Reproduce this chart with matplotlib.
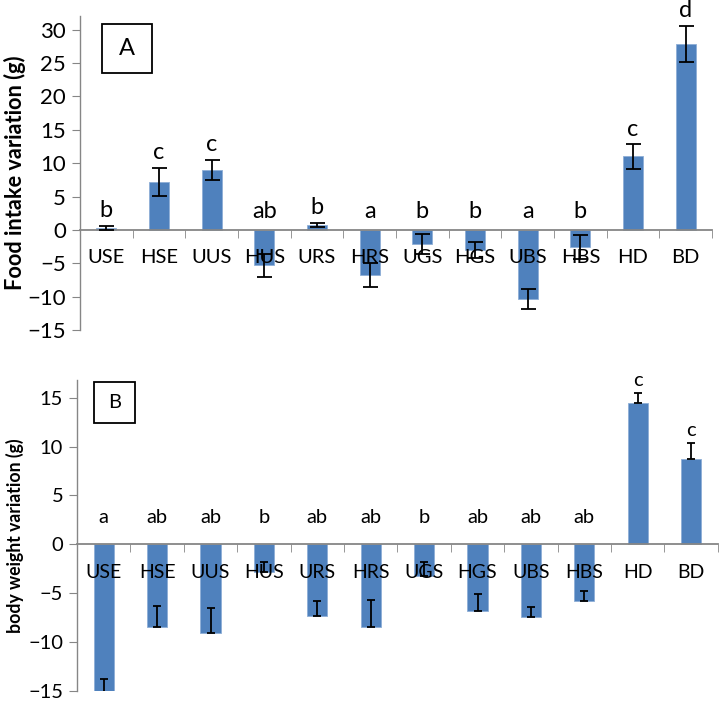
import numpy as np
import matplotlib.pyplot as plt
from matplotlib.patches import Rectangle

plt.rcParams['font.family'] = ['Lato', 'DejaVu Sans']

grupos = ['USE', 'HSE', 'UUS', 'HUS', 'URS', 'HRS', 'UGS', 'HGS', 'UBS', 'HBS', 'HD', 'BD']

# Panel A: variacion de ingesta (g)
ingesta = [0.3, 7.2, 9.0, -5.3, 0.75, -6.8, -2.1, -3.0, -10.4, -2.5, 11.0, 27.8]
ingesta_err = [0.3, 2.15, 1.5, 1.7, 0.3, 1.8, 1.5, 1.2, 1.5, 1.8, 1.8, 2.7]
letras_a = ['b', 'c', 'c', 'ab', 'b', 'a', 'b', 'b', 'a', 'b', 'c', 'd']

# Panel B: variacion de peso corporal (g)
peso = [-15.2, -8.45, -9.05, -2.85, -7.3, -8.45, -3.25, -6.85, -7.4, -5.8, 14.5, 8.7]
peso_err = [1.4, 2.15, 2.55, 1.05, 1.5, 2.75, 1.45, 1.75, 1.0, 1.0, 0.95, 1.7]
letras_b = ['a', 'ab', 'ab', 'b', 'ab', 'ab', 'b', 'ab', 'ab', 'ab', 'c', 'c']

AZUL = '#4F81BD'
GRIS = '#868686'

fig = plt.figure(figsize=(7.2, 7.04), dpi=100)
axA = fig.add_axes([0.111, 0.531, 0.878, 0.446])
axB = fig.add_axes([0.107, 0.0185, 0.890, 0.4415])


def dibujar_panel(ax, valores, errores, letras, ylim, etiqueta, letra_panel, solo_arriba,
                  caja, cap, off_neg, off_pos, fs_tick, fs_x, fs_letra):
    x = np.arange(len(grupos))
    ax.set_axisbelow(False)
    ax.bar(x, valores, width=0.38, color=AZUL, edgecolor='#8EAED6', linewidth=0.6, zorder=1)
    if solo_arriba:
        yerr = [np.zeros(len(errores)), errores]
    else:
        yerr = errores
    ax.errorbar(x, valores, yerr=yerr, fmt='none', ecolor='black', elinewidth=1.3,
                capsize=cap, capthick=1.3, zorder=3)

    # letras de significancia
    for xi, v, e, l in zip(x, valores, errores, letras):
        y = max(v + e, 0)
        off = off_pos if v > 0 else off_neg
        ax.annotate(l, (xi, y), xytext=(0, off), textcoords='offset points',
                    ha='center', va='center', fontsize=fs_letra)

    ax.set_xlim(-0.5, len(grupos) - 0.5)
    ax.set_ylim(*ylim)
    ax.set_yticks(np.arange(-15, ylim[1] + 0.1, 5))
    ax.set_xticks(x)
    ax.set_xticklabels(grupos)
    ax.set_xticks(np.arange(-0.5, len(grupos), 1), minor=True)
    ax.tick_params(axis='x', which='major', length=0, pad=14, labelsize=fs_x)
    ax.tick_params(axis='x', which='minor', length=6, color=GRIS, direction='out')
    ax.tick_params(axis='y', length=6, color=GRIS, labelsize=fs_tick, pad=4)

    ax.spines['bottom'].set_position(('data', 0))
    ax.spines['bottom'].set_color(GRIS)
    ax.spines['bottom'].set_linewidth(1.3)
    ax.spines['left'].set_color(GRIS)
    ax.spines['left'].set_linewidth(1.0)
    ax.spines['top'].set_visible(False)
    ax.spines['right'].set_visible(False)
    ax.set_ylabel(etiqueta, fontweight='bold', fontsize=14)

    # recuadro con la letra del panel
    x0, y0, w, h = caja
    ax.add_patch(Rectangle((x0, y0), w, h, transform=ax.transAxes, facecolor='white',
                           edgecolor='black', linewidth=1.3, zorder=5, clip_on=False))
    ax.text(x0 + w / 2, y0 + h / 2, letra_panel, transform=ax.transAxes, fontsize=fs_letra,
            ha='center', va='center', zorder=6)


def ajustar_ylabel(ax, largo_px, izq_px):
    # escala la etiqueta al largo de la original y pega su borde izquierdo a izq_px
    lbl = ax.yaxis.label
    r = fig.canvas.get_renderer()
    fig.canvas.draw()
    bb = lbl.get_window_extent(r)
    lbl.set_fontsize(lbl.get_fontsize() * largo_px / bb.height)
    fig.canvas.draw()
    bb = lbl.get_window_extent(r)
    pos = ax.get_position()
    ancho_fig = fig.dpi * fig.get_figwidth()
    xr = ((bb.x1 + izq_px - bb.x0) / ancho_fig - pos.x0) / pos.width
    ax.yaxis.set_label_coords(xr, 0.5)


dibujar_panel(axA, ingesta, ingesta_err, letras_a, (-15, 32),
              'Food intake variation (g)', 'A', False, (0.0348, 0.8185, 0.0791, 0.156),
              5.4, 13, 11, 16, 14.5, 17)
dibujar_panel(axB, peso, peso_err, letras_b, (-15, 16.8),
              'body weight variation (g)', 'B', True, (0.0265, 0.862, 0.064, 0.132),
              2.9, 19, 9, 14.5, 14, 14.5)

ajustar_ylabel(axA, 236, 4)
ajustar_ylabel(axB, 196, 6)

fig.savefig('out.png', dpi=100)
